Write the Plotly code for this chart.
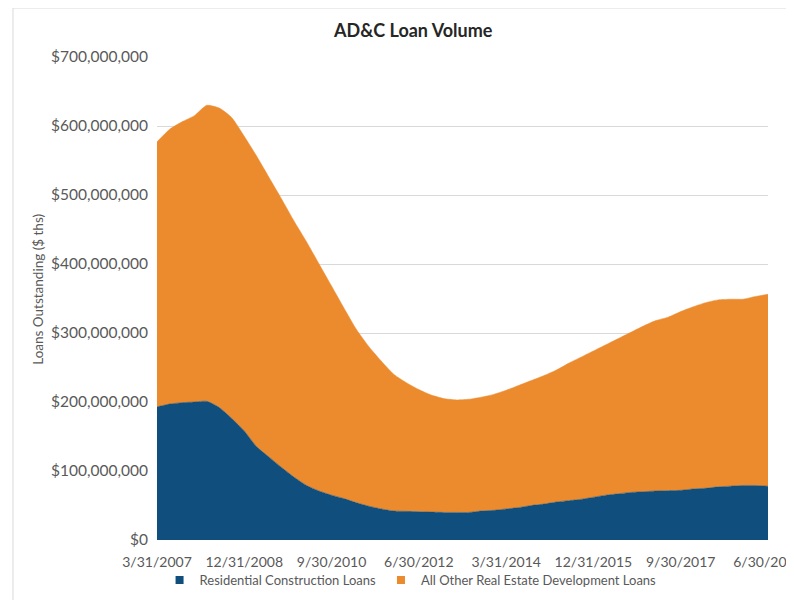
import pandas as pd
import plotly.graph_objects as go

# Quarter-end categories 3/31/2007 .. 6/30/2019
quarters = [f"{d.month}/{d.day}/{d.year}" for d in pd.date_range("2007-03-31", "2019-06-30", freq="QE")]

tick_labels = ["3/31/2007", "12/31/2008", "9/30/2010", "6/30/2012",
               "3/31/2014", "12/31/2015", "9/30/2017", "6/30/2019"]

# Values in $ millions
residential = [193, 197, 199, 200, 201, 192, 176, 158, 135, 120,
               105, 91, 79, 71, 65, 60, 54, 49, 45, 42,
               41.5, 41, 40.5, 40, 40, 40, 42, 43, 45, 47,
               50, 52, 55, 57, 59, 62, 65, 67, 69, 70,
               71, 71.5, 72, 74, 75, 77, 78, 79, 79, 78]

total = [577, 595, 606, 615, 630, 626, 612, 585, 556, 525,
         494, 462, 432, 400, 368, 336, 305, 280, 259, 240,
         228, 218, 210, 205, 203, 204, 207, 211, 217, 224,
         231, 238, 246, 256, 265, 274, 283, 292, 301, 310,
         318, 323, 331, 338, 344, 348, 349, 349, 353, 356]

other = [t - r for t, r in zip(total, residential)]

res_vals = [v * 1e6 for v in residential]
oth_vals = [v * 1e6 for v in other]

names = ["Residential Construction Loans", "All Other Real Estate Development Loans"]

BLUE = "#0f4e7d"
ORANGE = "#ec8b2e"
FONT = "Lato, Carlito, Calibri, sans-serif"

fig = go.Figure()
for vals, name, col in [(res_vals, names[0], BLUE), (oth_vals, names[1], ORANGE)]:
    fig.add_trace(go.Scatter(
        x=quarters, y=vals, name=name, showlegend=False,
        stackgroup="one", mode="lines", fillcolor=col,
        line=dict(width=0.5, color=col, shape="spline", smoothing=0.6)))
# legend entries with small square markers
for name, col in [(names[0], BLUE), (names[1], ORANGE)]:
    fig.add_trace(go.Scatter(
        x=[None], y=[None], name=name, mode="markers",
        marker=dict(symbol="square", size=8, color=col)))

# page body has an 8px margin, so the figure is offset by 8px
fig.update_layout(
    width=794, height=600,
    margin=dict(l=149, r=34, t=49, b=68, autoexpand=False),
    paper_bgcolor="white", plot_bgcolor="white",
    font=dict(family=FONT, color="#595959", size=13),
    showlegend=True,
    legend=dict(orientation="h", x=0.415, xanchor="center", y=-0.083, yanchor="middle",
                font=dict(size=13, color="#595959"), traceorder="normal",
                itemwidth=30, bgcolor="rgba(0,0,0,0)"),
    xaxis=dict(type="category", range=[0, len(quarters) - 1], automargin=False,
               tickmode="array", tickvals=tick_labels, ticktext=tick_labels,
               showgrid=False, showline=False, ticks="", ticklabelstandoff=12,
               tickfont=dict(size=14, color="#595959")),
    yaxis=dict(range=[0, 700e6], dtick=100e6, tickformat="$,.0f", automargin=False,
               showgrid=True, gridcolor="#d9d9d9", gridwidth=1,
               zeroline=False, showline=False, ticks="", ticklabelstandoff=8,
               tickfont=dict(size=15.5, color="#595959")),
    annotations=[
        dict(text="<b>AD&C Loan Volume</b>", xref="paper", yref="paper",
             x=0.419, y=(540 - 30) / 483, xanchor="center", yanchor="middle",
             showarrow=False, font=dict(size=18, color="#262626", family=FONT)),
        dict(text="Loans Outstanding ($ ths)", xref="paper", yref="paper",
             x=(38 - 157) / 611, y=0.518, xanchor="center", yanchor="middle",
             textangle=-90, showarrow=False, font=dict(size=13.5, color="#595959", family=FONT)),
    ],
    shapes=[
        dict(type="line", xref="paper", yref="paper",
             x0=(13 - 157) / 611, x1=(800 - 157) / 611,
             y0=(540 - 8) / 483, y1=(540 - 8) / 483,
             line=dict(color="#d9d9d9", width=1)),
        dict(type="line", xref="paper", yref="paper",
             x0=(13 - 157) / 611, x1=(13 - 157) / 611,
             y0=(540 - 8) / 483, y1=(540 - 605) / 483,
             line=dict(color="#d9d9d9", width=1)),
    ],
)

fig.write_html("out.html")
